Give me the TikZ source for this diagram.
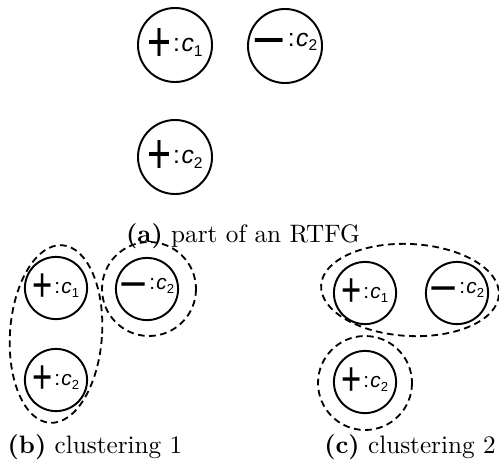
\documentclass[tikz,border=0pt]{standalone}
\usepackage{fontspec}
\newfontfamily\atomfont{Liberation Sans}
\usetikzlibrary{shapes.geometric}
% sign, colon and italic class letter with its index
\newcommand\plussign{\scalebox{0.72}[1]{\fontsize{22}{22}\selectfont +}}
\newcommand\minussign{\raisebox{-1.2pt}{\fontsize{22}{22}\selectfont −}}
\newcommand\atomtext[2]{#1\hspace{0.6pt}\raisebox{3.8pt}{\fontsize{9.5}{9.5}\selectfont:\hspace{0.6pt}\itshape c\raisebox{-1.8pt}{\fontsize{6}{6}\selectfont\upshape #2}}}
\tikzset{
  atom/.style={draw, circle, line width=0.75pt, minimum size=28.5pt, inner sep=0pt, font=\atomfont},
  small atom/.style={atom, scale=0.84, transform shape},
  cluster/.style={draw, dashed, line width=0.7pt, dash pattern=on 2.6pt off 1.7pt},
  caption/.style={font=\fontsize{9.7}{12}\selectfont, inner sep=0pt}
}
\begin{document}
\begin{tikzpicture}[x=0.385pt, y=-0.385pt]
\useasboundingbox (0,0) rectangle (499,470);

% (a) the graph fragment
\node[atom] (a1) at (175,45) {\atomtext{\plussign}{1}};
\node[atom] (a2) at (285,46) {\atomtext{\minussign}{2}};
\node[atom] (a3) at (175,157) {\atomtext{\plussign}{2}};
\node[caption] (capa) at (243,236) {\textbf{(a)} part of an RTFG};

% (b) first clustering
\node[small atom] (b1) at (56,288) {\atomtext{\plussign}{1}};
\node[small atom] (b2) at (147,289) {\atomtext{\minussign}{2}};
\node[small atom] (b3) at (56,380) {\atomtext{\plussign}{2}};
\draw[cluster, rotate around={-4:(56,334)}] (56,334) ellipse [x radius=46, y radius=89];
\draw[cluster] (149,289) circle [radius=47];
\node[caption] (capb) at (95,447) {\textbf{(b)} clustering 1};

% (c) second clustering
\node[small atom] (c1) at (365,293) {\atomtext{\plussign}{1}};
\node[small atom] (c2) at (457,293) {\atomtext{\minussign}{2}};
\node[small atom] (c3) at (365,382) {\atomtext{\plussign}{2}};
\draw[cluster, rotate around={-3:(410,290)}] (410,290) ellipse [x radius=89, y radius=46];
\draw[cluster] (365,383) circle [radius=47];
\node[caption] (capc) at (410,447) {\textbf{(c)} clustering 2};
\end{tikzpicture}
\end{document}
